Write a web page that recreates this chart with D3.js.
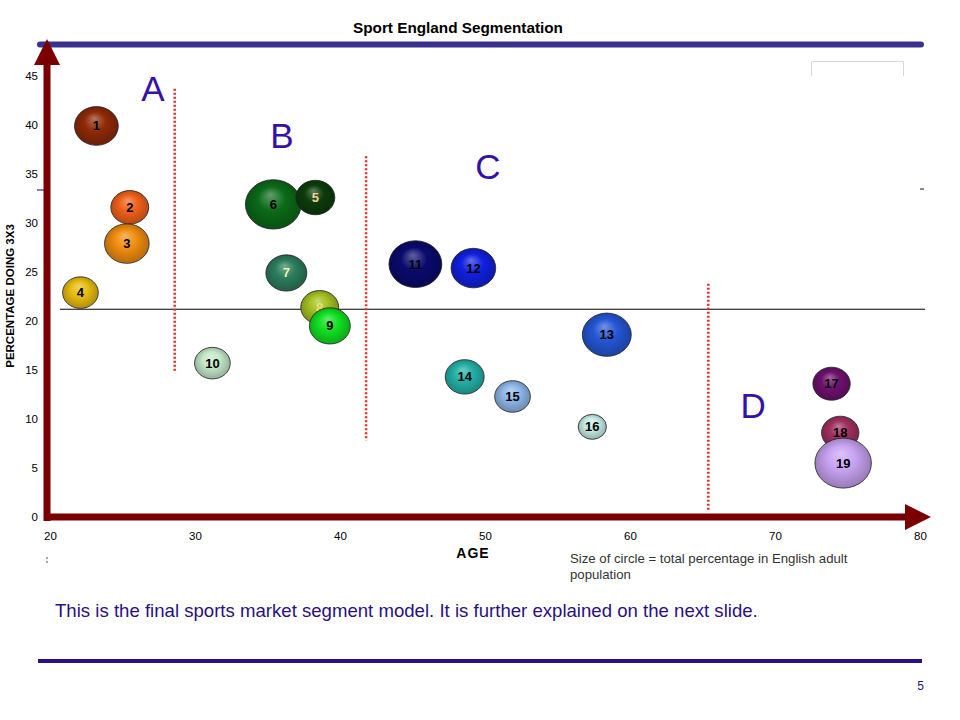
<!DOCTYPE html>
<html><head><meta charset="utf-8">
<script src="https://cdn.jsdelivr.net/npm/d3@7"></script>
<style>
body{margin:0;background:#fff;}
svg{display:block;font-family:Arial,"Liberation Sans",sans-serif;}
</style></head>
<body><svg id="c" width="960" height="720"></svg>
<script>
// ---- data ----
const segments = ["1","2","3","4","5","6","7","8","9","10","11","12","13","14","15","16","17","18","19"];
const ages     = [23.2,25.5,25.3,22.1,38.3,35.4,36.3,38.6,39.3,31.2,45.2,49.2,58.4,48.6,51.9,57.4,73.9,74.5,74.7];
const pctDoing = [39.9,31.6,27.9,22.9,32.6,31.9,24.9,21.4,19.5,15.7,25.8,25.4,18.6,14.3,12.3,9.2,13.6,8.6,5.5];
const popShare = [4.8,3.6,5.0,3.2,3.8,7.8,4.2,3.6,4.2,3.2,7.0,5.0,6.0,3.8,3.2,2.0,3.5,3.5,8.0];
const fills    = ["#8e2a08","#f0601a","#f08c10","#e6bc10","#0c3c0c","#0b6a18","#2c7c5c","#a4c020","#10e020","#c4e8c8",
                  "#0a0a6e","#1020e0","#2456d4","#22b0a6","#8eb6e8","#c4ece4","#6e106e","#a03060","#c8a2f2"];
const labelColors = ["#000","#000","#000","#000","#f0d090","#000","#f0f0a0","#f0e070","#000","#000",
                     "#000","#000","#000","#000","#000","#000","#000","#000","#000"];
const xTicks = [20,30,40,50,60,70,80];
const yTicks = [0,5,10,15,20,25,30,35,40,45];
const zoneNames = ["A","B","C","D"];
const zoneLabelAge = [27.1,36.0,50.2,68.5];
const zoneLabelPct = [42.4,37.7,34.5,10.1];
const dividerAge = [28.6,41.8,65.4];
const dividerTop = [43.7,36.8,23.8];
const dividerBottom = [14.8,7.8,0.7];
const averageLine = 21.2;

const svg = d3.select("#c");
const x = d3.scaleLinear().domain([20,80]).range([50,920]);
const y = d3.scaleLinear().domain([0,45]).range([517,76]);
const r = d3.scaleSqrt().domain([0,8]).range([0,25]);

const ink = "#2a1080";
// title + top rule
svg.append("text").attr("x",458).attr("y",33).attr("text-anchor","middle")
  .attr("font-size",15.3).attr("font-weight","bold").attr("fill","#000").text("Sport England Segmentation");
svg.append("line").attr("x1",40).attr("x2",921).attr("y1",44.5).attr("y2",44.5)
  .attr("stroke","#3a3090").attr("stroke-width",6).attr("stroke-linecap","round");

// small box top right
svg.append("path").attr("d","M811.5,76 V61.5 H903.5 V76").attr("fill","none").attr("stroke","#d8d8d8");
// stray marks
svg.append("line").attr("x1",37).attr("x2",45).attr("y1",190).attr("y2",190).attr("stroke","#303080").attr("stroke-width",1.2);
svg.append("line").attr("x1",920).attr("x2",924).attr("y1",189).attr("y2",189).attr("stroke","#303080").attr("stroke-width",1.2);

// average line
svg.append("line").attr("x1",60).attr("x2",925).attr("y1",y(averageLine)).attr("y2",y(averageLine))
  .attr("stroke","#000").attr("stroke-width",1);

// dividers
dividerAge.forEach((a,i)=>{
  svg.append("line").attr("x1",x(a)).attr("x2",x(a)).attr("y1",y(dividerTop[i])).attr("y2",y(dividerBottom[i]))
    .attr("stroke","#e02a2a").attr("stroke-width",2.5).attr("stroke-dasharray","2,2");
});
svg.append("line").attr("x1",47).attr("x2",47).attr("y1",557).attr("y2",564)
  .attr("stroke","#888").attr("stroke-width",1.5).attr("stroke-dasharray","2,2");

// zone letters
zoneNames.forEach((n,i)=>{
  svg.append("text").attr("x",x(zoneLabelAge[i])).attr("y",y(zoneLabelPct[i])).attr("text-anchor","middle")
    .attr("font-size",35).attr("fill","#3412a8").text(n);
});

// axes labels via d3 axes
const gy = svg.append("g").attr("transform","translate(47,0)")
  .call(d3.axisLeft(y).tickValues(yTicks).tickSize(0).tickPadding(9));
gy.select(".domain").remove();
gy.selectAll("text").attr("font-size",11.5).attr("font-family","Arial,'Liberation Sans',sans-serif").attr("fill","#000");
const gx = svg.append("g").attr("transform","translate(0,517)")
  .call(d3.axisBottom(x).tickValues(xTicks).tickSize(0).tickPadding(15));
gx.select(".domain").remove();
gx.selectAll("text").attr("font-size",11.5).attr("font-family","Arial,'Liberation Sans',sans-serif").attr("fill","#000");

// gradients
const defs = svg.append("defs");
fills.forEach((c,i)=>{
  const g = defs.append("radialGradient").attr("id","g"+i).attr("cx","50%").attr("cy","50%").attr("r","55%")
    .attr("fx","45%").attr("fy","30%");
  const base = d3.color(c);
  g.append("stop").attr("offset","0%").attr("stop-color",d3.interpolateRgb(c,"#fff")(0.35));
  g.append("stop").attr("offset","45%").attr("stop-color",c);
  g.append("stop").attr("offset","100%").attr("stop-color",base.darker(0.9));
});

// bubbles
const data = segments.map((s,i)=>({s,i,a:ages[i],p:pctDoing[i],z:popShare[i]}));
const drawOrder = [0,1,2,3,5,4,6,7,8,9,10,11,12,13,14,15,16,17,18];
const gB = svg.append("g");
drawOrder.forEach(i=>{
  const d = data[i];
  gB.append("ellipse").attr("cx",x(d.a)).attr("cy",y(d.p)).attr("rx",r(d.z)*1.13).attr("ry",r(d.z))
    .attr("fill","url(#g"+i+")").attr("stroke","#222").attr("stroke-width",0.8);
  gB.append("text").attr("x",x(d.a)).attr("y",y(d.p)+4.5).attr("text-anchor","middle")
    .attr("font-size",13).attr("font-weight","bold").attr("fill",labelColors[i]).text(d.s);
});

// axis arrows
const axc = "#7a0000";
svg.append("line").attr("x1",47).attr("x2",47).attr("y1",521).attr("y2",62).attr("stroke",axc).attr("stroke-width",7);
svg.append("path").attr("d","M47,39 L60,65 L34,65 Z").attr("fill",axc);
svg.append("line").attr("x1",44).attr("x2",908).attr("y1",517).attr("y2",517).attr("stroke",axc).attr("stroke-width",7);
svg.append("path").attr("d","M931,517 L905,504 L905,530 Z").attr("fill",axc);

// axis titles
svg.append("text").attr("x",473).attr("y",558).attr("text-anchor","middle").attr("font-size",14)
  .attr("font-weight","bold").attr("letter-spacing",1).text("AGE");
svg.append("text").attr("transform","translate(14,296) rotate(-90)").attr("text-anchor","middle")
  .attr("font-size",11.5).attr("font-weight","bold").text("PERCENTAGE DOING 3X3");

// note
svg.append("text").attr("x",570).attr("y",563).attr("font-size",13.2).attr("fill","#333")
  .text("Size of circle = total percentage in English adult");
svg.append("text").attr("x",570).attr("y",579).attr("font-size",13.2).attr("fill","#333").text("population");

// caption
svg.append("text").attr("x",55).attr("y",617).attr("font-size",18.6).attr("fill",ink)
  .text("This is the final sports market segment model. It is further explained on the next slide.");
svg.append("line").attr("x1",38).attr("x2",922).attr("y1",661).attr("y2",661).attr("stroke",ink).attr("stroke-width",4);
svg.append("text").attr("x",924).attr("y",690).attr("text-anchor","end").attr("font-size",12).attr("fill",ink).text("5");
</script></body></html>
